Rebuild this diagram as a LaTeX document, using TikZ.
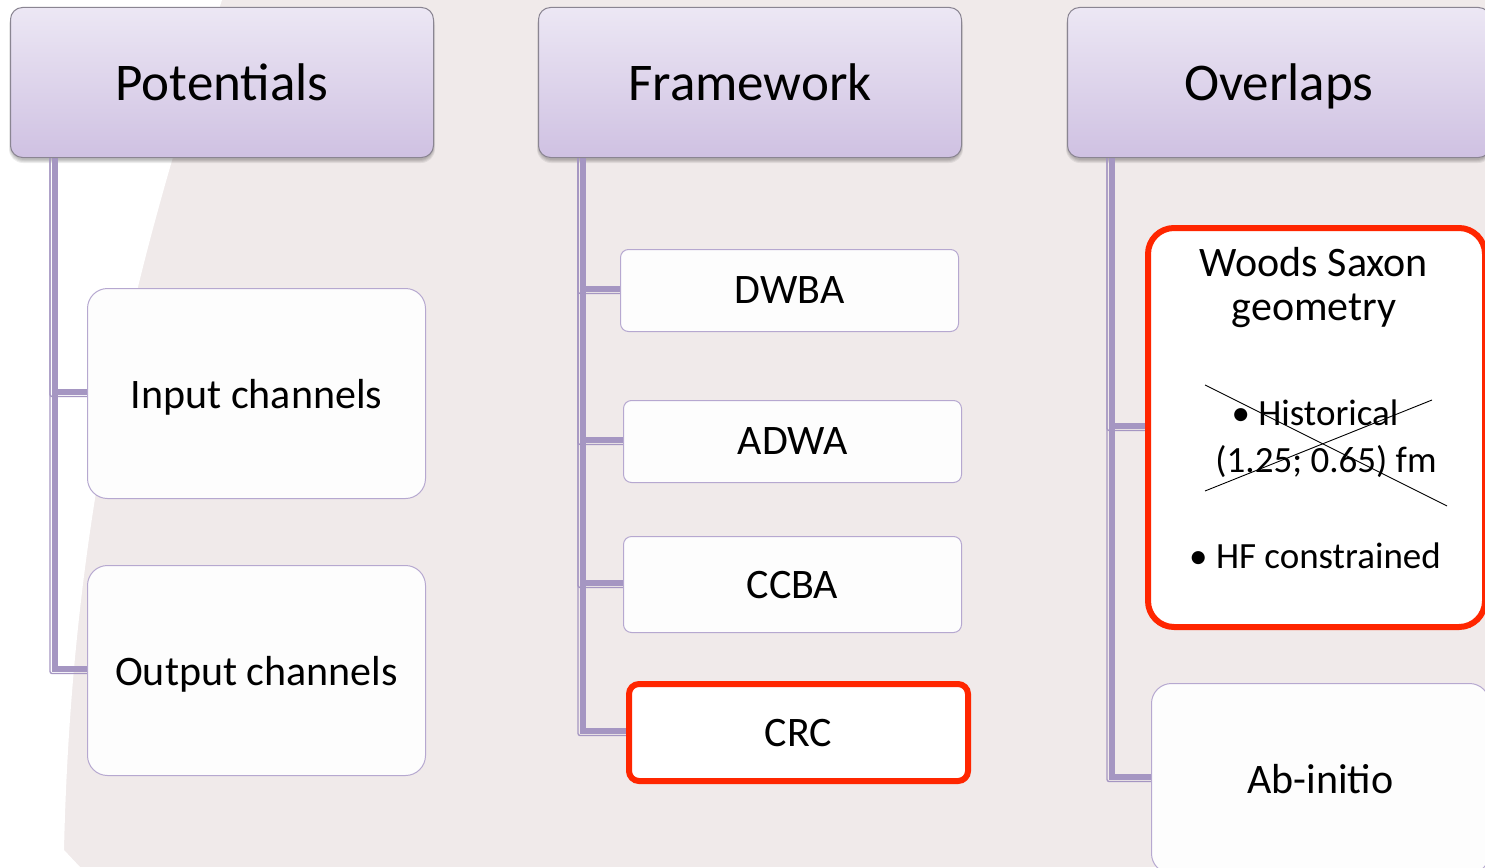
\documentclass[tikz,border=0pt]{standalone}
\usepackage{fontspec}
\setmainfont{Carlito}
\usetikzlibrary{calc}

\definecolor{bgpink}{HTML}{F0EAEA}
\definecolor{headtop}{HTML}{ECE7F4}
\definecolor{headbot}{HTML}{CFC1E2}
\definecolor{headline}{HTML}{8A8592}
\definecolor{childline}{HTML}{B6A8D0}
\definecolor{childfill}{HTML}{FDFDFD}
\definecolor{connc}{HTML}{A596C2}
\definecolor{alertred}{HTML}{FF2600}

\pgfdeclarelayer{backdrop}
\pgfdeclarelayer{links}
\pgfsetlayers{backdrop,links,main}

\tikzset{
  head/.style={rounded corners=12pt, draw=headline, line width=1pt,
    top color=headtop, bottom color=headbot, anchor=north west,
    minimum width=423pt, minimum height=150pt, inner sep=0pt,
    text depth=0pt, font=\fontsize{53}{60}\selectfont},
  bigchild/.style={rounded corners=20pt, draw=childline, line width=1pt,
    fill=childfill, anchor=north west, inner sep=0pt,
    minimum width=338pt, minimum height=210pt, text depth=0pt,
    font=\fontsize{42}{48}\selectfont},
  smallchild/.style={rounded corners=8pt, draw=childline, line width=1pt,
    fill=childfill, anchor=north west, inner sep=0pt,
    minimum width=338pt, minimum height=82pt, text depth=0pt,
    font=\fontsize{42}{48}\selectfont},
  redframe/.style={draw=alertred, line width=6pt, fill=white},
  conn/.style={draw=connc, line width=6pt},
  connthin/.style={draw=connc, line width=1.3pt, rounded corners=2pt},
  softshade/.style={fill=black, fill opacity=0.07, rounded corners=14pt},
  bodytext/.style={font=\fontsize{42}{44}\selectfont, align=center, inner sep=0pt},
  bullettext/.style={font=\fontsize{37}{40}\selectfont, anchor=base, inner sep=0pt},
  strike/.style={draw=black, line width=0.9pt}
}

\begin{document}
\begin{tikzpicture}[x=1pt, y=-1pt]
\useasboundingbox (0,0) rectangle (1485,867);

% backdrop: pale panel with a curved white strip on the left
\begin{pgfonlayer}{backdrop}
\fill[bgpink] (0,0) rectangle (1485,867);
\fill[white] (0,0) -- (222,0) .. controls (140,250) and (72,500) .. (64,850)
  -- (80,867) -- (0,867) -- cycle;
\end{pgfonlayer}

% headers
\node[head] (h1) at (10,7) {Potentials};
\node[head] (h2) at (538,7) {Framework};
\node[head] (h3) at (1067,7) {Overlaps};

% column 1 boxes
\node[bigchild] (in1) at (87,288) {Input channels};
\node[bigchild] (out1) at (87,565) {Output channels};

% column 2 boxes
\node[smallchild] (dwba) at (620,249) {DWBA};
\node[smallchild] (adwa) at (623,400) {ADWA};
\node[smallchild, minimum height=96pt] (ccba) at (623,536) {CCBA};
\node[smallchild, redframe, rounded corners=10pt, minimum width=339pt,
  minimum height=97pt] (crc) at (626,681) {CRC};

% column 3 boxes
\node[bigchild, redframe, rounded corners=26pt, minimum width=337pt,
  minimum height=399pt] (ws) at (1145,225) {};
\node[bigchild, minimum height=190pt] (ab) at (1151,683) {Ab-initio};

\begin{pgfonlayer}{links}
% soft shadows under the header boxes
\foreach \h in {h1,h2,h3}{
  \foreach \k in {1,2,3,4}{
    \fill[softshade] ($(\h.north west)+(-\k/2+1,4)$) rectangle ($(\h.south east)+(\k/2-1,\k+1)$);
  }
}
% tree connectors: a broad bar with a thin parallel rule
\foreach \h/\c in {h1/in1, h1/out1, h2/dwba, h2/adwa, h2/ccba, h2/crc, h3/ws, h3/ab}{
  \draw[connthin] ($(\h.south west)+(40,0)$) |- ($(\c.west)+(0,3)$);
  \draw[conn] ($(\h.south west)+(44.5,0)$) |- ($(\c.west)+(0,-2)$);
}
\end{pgfonlayer}

% contents of the Woods-Saxon box
\node[bodytext] (wst) at (1314,288) {Woods Saxon\\geometry};
\node[bullettext] (hist) at (1315,425) {\textbullet\ Historical};
\node[bullettext] (histv) at (1326,472) {(1.25; 0.65) fm};
\node[bullettext] (hf) at (1315,568) {\textbullet\ HF constrained};

% crossed-out entry
\coordinate (s1a) at (1205,385);
\coordinate (s1b) at (1447,506);
\coordinate (s2a) at (1205,491);
\coordinate (s2b) at (1432,400);
\draw[strike] (s1a) -- (s1b);
\draw[strike] (s2a) -- (s2b);
\end{tikzpicture}
\end{document}
